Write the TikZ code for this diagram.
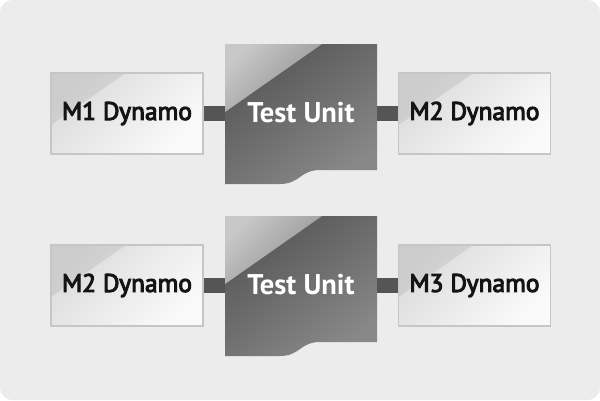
\documentclass[tikz,border=0pt]{standalone}
\usepackage{fontspec}
\setmainfont{PT Sans}
\newfontfamily\dynfont[FakeBold=4]{PT Sans}
\usetikzlibrary{calc}
\definecolor{panel}{HTML}{ECECEC}
\definecolor{boxline}{HTML}{C6C6C6}
\definecolor{boxdark}{HTML}{DCDCDC}
\definecolor{boxlight}{HTML}{FAFAFA}
\definecolor{unitdark}{HTML}{575556}
\definecolor{unitlight}{HTML}{888888}
\definecolor{shinetop}{HTML}{C8C8C8}
\definecolor{shinelow}{HTML}{8E8E8E}
\definecolor{linkcol}{HTML}{555555}
\tikzset{
  dynamo/.style={draw=boxline, line width=1.5pt, minimum width=152pt, minimum height=81pt,
    inner sep=0pt, top color=boxdark, bottom color=boxlight, shading angle=45,
    font=\dynfont\fontsize{25.5}{27}\selectfont, text=black!92,
    path picture={\shade[top color=black!20, bottom color=black!9, shading angle=45]
      (path picture bounding box.north west) -- ([xshift=75pt]path picture bounding box.north west)
      -- ([yshift=-52pt]path picture bounding box.north west) -- cycle;}},
  unit/.style={text=white, font=\bfseries\fontsize{28.5}{30}\selectfont,
    minimum width=152pt, minimum height=140pt, inner sep=0pt},
  link/.style={linkcol, line width=15pt}
}
\begin{document}
\begin{tikzpicture}[x=1pt,y=-1pt]
\useasboundingbox (0,0) rectangle (600,400);
\fill[panel, rounded corners=12pt] (0,0) rectangle (600,400);
\foreach \r/\dy/\la/\lb in {1/0/M1/M2, 2/172/M2/M3}{
  \begin{scope}[shift={(0,\dy)}]
    % test unit body with the wavy foot
    \shade[top color=unitdark, bottom color=unitlight, shading angle=35]
      (225,44) -- (377,44) -- (377,170) -- (320,170)
      .. controls (300,170) and (300,184) .. (280,184) -- (225,184) -- cycle;
    \shade[top color=shinetop, bottom color=shinelow, shading angle=45]
      (225,44) -- (322,44) -- (225,112) -- cycle;
    \node[unit] (tu\r) at (301,113.5) {\raisebox{2.5pt}{Test Unit}};
    \node[dynamo] (lft\r) at (127,113.5) {\la\ Dynamo};
    \node[dynamo] (rgt\r) at (474.5,113.5) {\lb\ Dynamo};
    \draw[link] (lft\r) -- (tu\r);
    \draw[link] (tu\r) -- (rgt\r);
  \end{scope}
}
\end{tikzpicture}
\end{document}
